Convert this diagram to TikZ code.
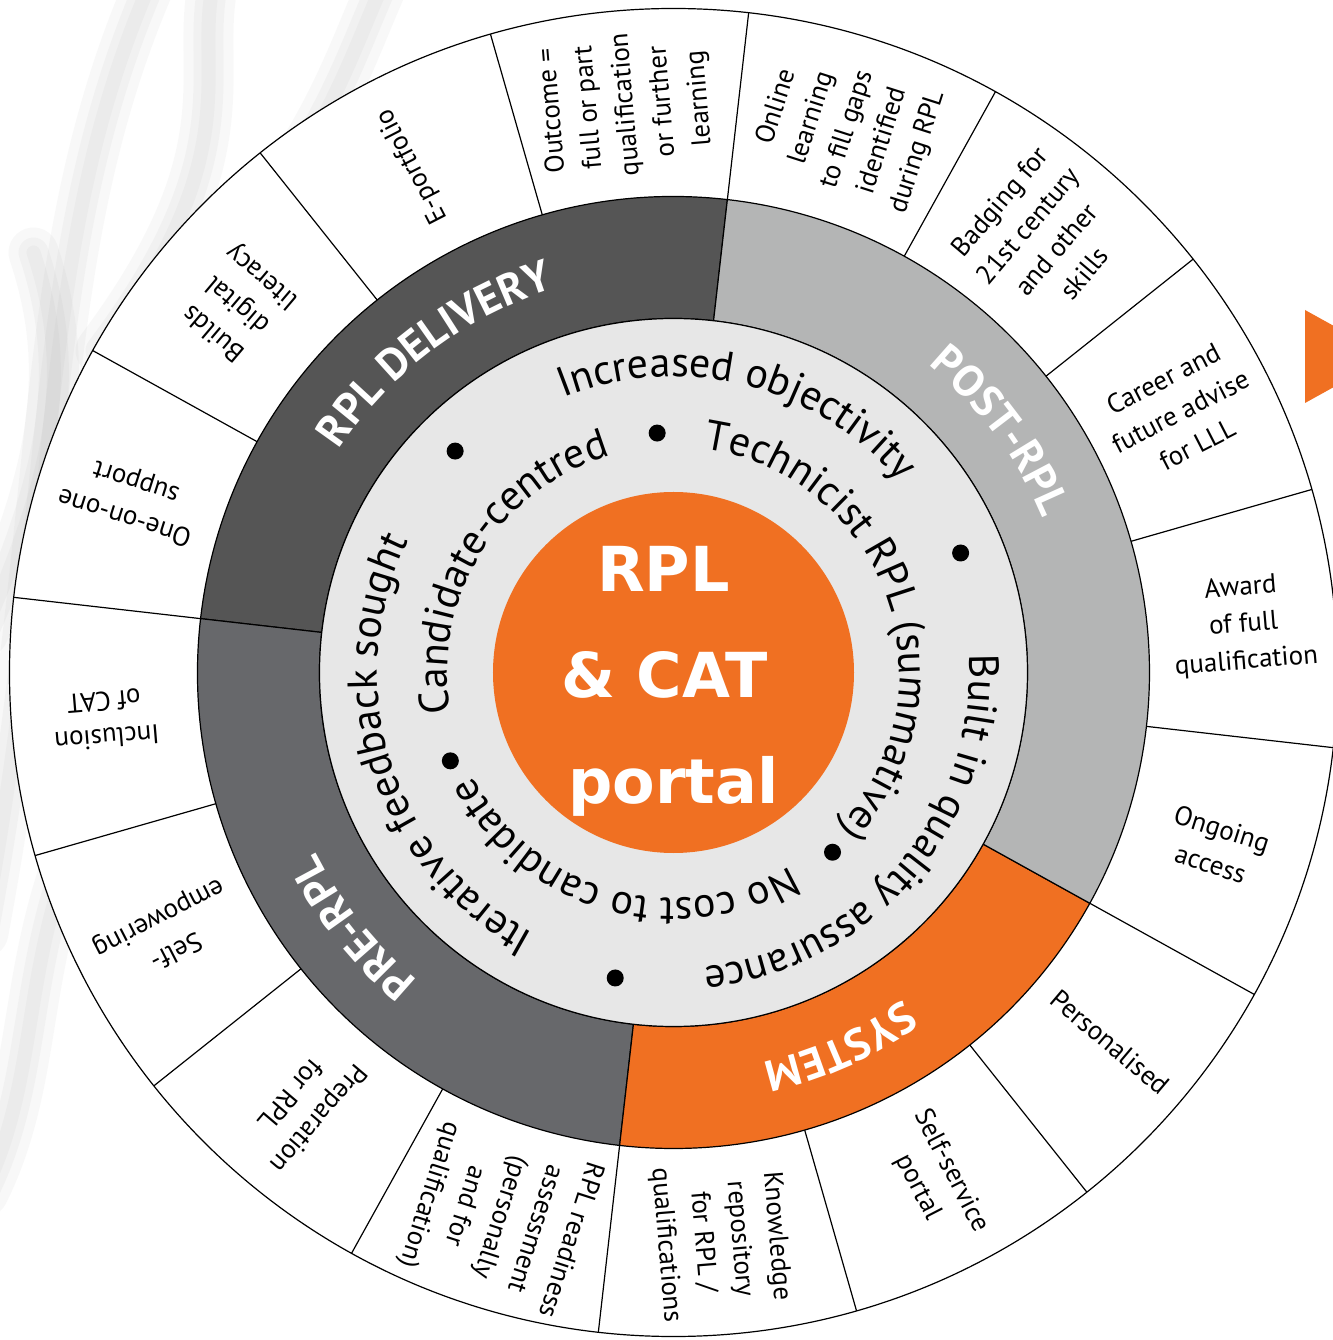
\documentclass[tikz,border=0pt]{standalone}
\usepackage{fontspec}
\setmainfont{PT Sans}
\newfontfamily\centerfont{DejaVu Sans}
\usetikzlibrary{decorations.text}
\definecolor{orng}{HTML}{F07022}
\definecolor{delv}{HTML}{555555}
\definecolor{prer}{HTML}{67686B}
\definecolor{post}{HTML}{B4B5B5}
\definecolor{lite}{HTML}{E7E7E7}
\newcommand\ringfont{\fontsize{42}{48}\selectfont}
\newcommand\labfont{\bfseries\fontsize{44}{50}\selectfont}
\newcommand\ringsector[3]{%
  \filldraw[ringline, fill=#1] (#2:354) arc[start angle=#2, end angle=#3, radius=354]
    -- (#3:476) arc[start angle=#3, end angle=#2, radius=476] -- cycle;}
\begin{document}
\begin{tikzpicture}[x=1pt,y=1pt,
  ringline/.style={line width=1.2pt, draw=black},
  seglabel/.style={align=center, font=\fontsize{27}{37}\selectfont, inner sep=0pt},
  ctext/.style={font=\centerfont\bfseries\fontsize{62}{70}\selectfont, text=white, inner sep=0pt, anchor=base},
  dot/.style={circle, fill=black, minimum size=17pt, inner sep=0pt},
  smoke/.style={draw=gray, line cap=round, opacity=0.05}]
\useasboundingbox (-673.5,-667.5) rectangle (658.5,672.5);
\fill[white] (-673.5,-667.5) rectangle (658.5,672.5);
% smoke wisps
\foreach \w in {50,30,14}{
  \draw[smoke, line width=\w] (-690,-260) .. controls (-610,170) and (-640,420) .. (-523,690);
  \draw[smoke, line width=\w] (-573,322) .. controls (-423,522) and (-480,600) .. (-460,690);
  \draw[smoke, line width=\w] (-480,380) .. controls (-350,520) and (-330,600) .. (-290,690);
  \draw[smoke, line width=\w] (-690,-520) .. controls (-640,-420) and (-650,-320) .. (-610,-200);
  \draw[smoke, line width=\w] (-690,40) .. controls (-620,200) and (-600,300) .. (-640,420);
}
% orange arrow at right edge
\fill[orng] (631.5,362.5) -- (631.5,269.5) -- (715.5,316) -- cycle;
% outer ring
\draw[ringline, fill=white] (0,0) circle (664);
\foreach \k in {0,...,15}{
  \pgfmathsetmacro\a{83.5+22.5*\k}
  \draw[ringline] (\a:476) -- (\a:664);
}
% phase ring
\ringsector{delv}{83.5}{173.5}
\ringsector{prer}{173.5}{263.5}
\ringsector{orng}{263.5}{331}
\ringsector{post}{331}{443.5}
% light ring and core
\draw[ringline, fill=lite] (0,0) circle (354);
\fill[orng] (0,0) circle (180.5);
% outer segment labels
\node[seglabel, rotate=94.75] (s1) at (94.75:570) {Outcome =\\full or part\\qualification\\or further\\learning};
\node[seglabel, rotate=117.25] (s2) at (117.25:570) {E-portfolio};
\node[seglabel, rotate=139.75] (s3) at (139.75:570) {Builds\\digital\\literacy};
\node[seglabel, rotate=162.25] (s4) at (162.25:570) {One-on-one\\support};
\node[seglabel, rotate=184.75] (s5) at (184.75:570) {Inclusion\\of CAT};
\node[seglabel, rotate=207.25] (s6) at (207.25:570) {Self-\\empowering};
\node[seglabel, rotate=229.75] (s7) at (229.75:570) {Preparation\\for RPL};
\node[seglabel, rotate=252.25] (s8) at (252.25:572) {RPL readiness\\assessment\\(personally\\and for\\qualification)};
\node[seglabel, rotate=274.75] (s9) at (274.75:570) {Knowledge\\repository\\for RPL /\\qualifications};
\node[seglabel, rotate=297.25] (s10) at (297.25:570) {Self-service\\portal};
\node[seglabel, rotate=319.75] (s11) at (319.75:572) {Personalised};
\node[seglabel, rotate=342.25] (s12) at (342.25:570) {Ongoing\\access};
\node[seglabel, rotate=4.75] (s13) at (4.75:572) {Award\\of full\\qualification};
\node[seglabel, rotate=27.25] (s14) at (27.25:570) {Career and\\future advise\\for LLL};
\node[seglabel, rotate=49.75] (s15) at (49.75:570) {Badging for\\21st century\\and other\\skills};
\node[seglabel, rotate=72.25] (s16) at (72.25:570) {Online\\learning\\to fill gaps\\identified\\during RPL};
% phase labels
\path[decorate, decoration={text along path, text align=center, text={|\labfont\color{white}|RPL DELIVERY}}]
  (196.8:402) arc[start angle=196.8, end angle=56.8, radius=402];
\path[decorate, decoration={text along path, text align=center, text={|\labfont\color{white}|POST-RPL}}]
  (96.5:400) arc[start angle=96.5, end angle=-23.5, radius=400];
\path[decorate, decoration={text along path, text align=center, text={|\labfont\color{white}|SYSTEM}}]
  (-6:400) arc[start angle=-6, end angle=-126, radius=400];
\path[decorate, decoration={text along path, text align=center, text={|\labfont\color{white}|PRE-RPL}}]
  (278.5:400) arc[start angle=278.5, end angle=158.5, radius=400];
% principles, outer text ring
\path[decorate, decoration={text along path, text align=center, text={|\ringfont|Increased objectivity}}]
  (146:296) arc[start angle=146, end angle=6, radius=296];
\path[decorate, decoration={text along path, text align=center, text={|\ringfont|Built in quality assurance}}]
  (29.6:296) arc[start angle=29.6, end angle=-110.4, radius=296];
\path[decorate, decoration={text along path, text align=center, text={|\ringfont|Iterative feedback sought}}]
  (267.7:296) arc[start angle=267.7, end angle=127.7, radius=296];
% principles, inner text ring
\path[decorate, decoration={text along path, text align=center, text={|\ringfont|Technicist RPL (summative)}}]
  (94.5:226) arc[start angle=94.5, end angle=-55.5, radius=226];
\path[decorate, decoration={text along path, text align=center, text={|\ringfont|No cost to candidate}}]
  (-40.9:226) arc[start angle=-40.9, end angle=-170.9, radius=226];
\path[decorate, decoration={text along path, text align=center, text={|\ringfont|Candidate-centred}}]
  (213.2:226) arc[start angle=213.2, end angle=83.2, radius=226];
% bullets
\node[dot] (b1) at (22.6:311) {};
\node[dot] (b2) at (-100.8:311) {};
\node[dot] (b3) at (134.6:311) {};
\node[dot] (b4) at (93.9:240) {};
\node[dot] (b5) at (-48.5:240) {};
\node[dot] (b6) at (201.6:240) {};
% centre title
\node[ctext] (c1) at (-10,81) {RPL};
\node[ctext] (c2) at (-9,-25) {\& CAT};
\node[ctext] (c3) at (0,-131) {portal};
\end{tikzpicture}
\end{document}
